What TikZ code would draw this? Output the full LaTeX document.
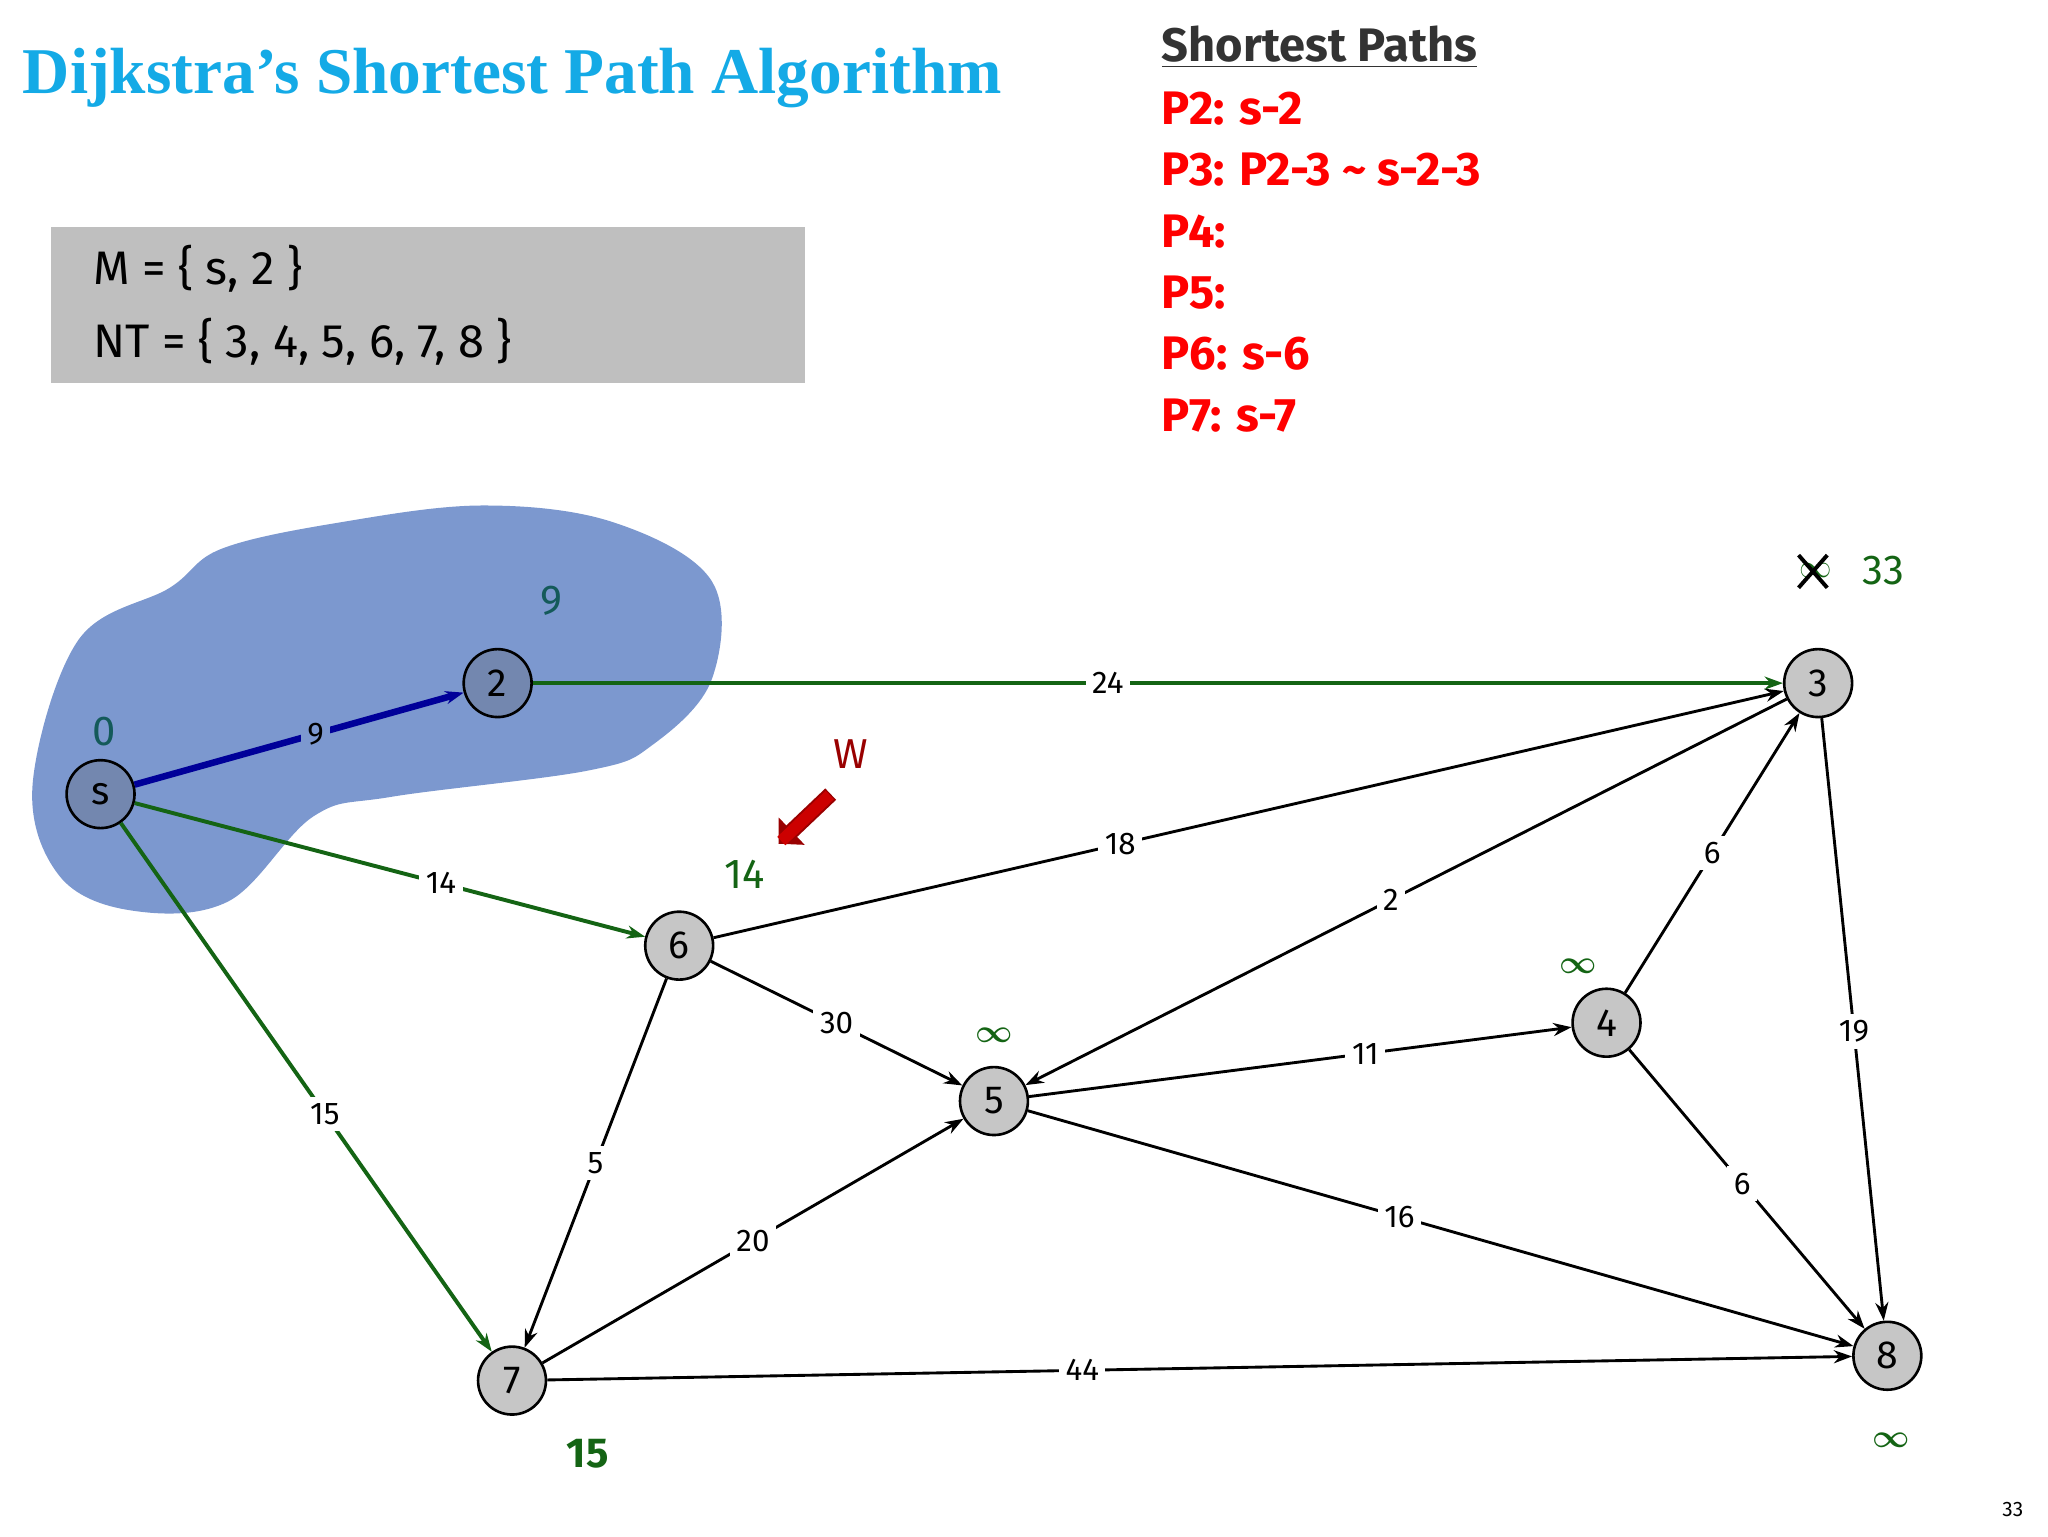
\documentclass[tikz,border=0pt]{standalone}
\usepackage{amsmath}
\usepackage{fontspec}
\setmainfont{Liberation Serif}
\newfontfamily\cf{Fira Sans}
\usetikzlibrary{arrows.meta}
\definecolor{gr}{RGB}{20,100,20}
\definecolor{teal2}{RGB}{20,90,90}
\definecolor{blobc}{RGB}{124,152,207}
\definecolor{titlec}{RGB}{20,170,230}
\tikzset{
 vtx/.style={circle,draw,line width=2pt,fill=gray!45,minimum size=52pt,inner sep=0pt,font=\cf\fontsize{30}{30}\selectfont},
 e/.style={line width=2.2pt,-{Stealth[length=14pt,width=10pt]}},
 lab/.style={fill=white,inner sep=5pt,font=\cf\fontsize{24}{24}\selectfont},
 ge/.style={e,draw=gr,line width=3pt},
 gtxt/.style={text=gr,font=\cf\fontsize{32}{32}\selectfont},
 red/.style={text=red,font=\cf\bfseries\fontsize{36}{36}\selectfont,anchor=west}
}
\begin{document}
\begin{tikzpicture}[x=1pt,y=-1pt]
\useasboundingbox (0,0) rectangle (1568,1176);
\fill[blobc] plot[smooth cycle,tension=0.6] coordinates{(25,600)(60,490)(130,450)(170,420)(260,400)(370,387)(470,400)(545,445)(545,520)(500,570)(450,590)(300,610)(240,625)(175,690)(100,697)(45,670)};
\node[anchor=west,text=titlec,font=\bfseries\fontsize{50}{50}\selectfont] (title) at (14,60) {Dijkstra's Shortest Path Algorithm};
\fill[gray!50] (39,174) rectangle (616,293);
\node[anchor=west,font=\cf\fontsize{36}{36}\selectfont] (m) at (68,206) {M = \{ s, 2 \}};
\node[anchor=west,font=\cf\fontsize{36}{36}\selectfont] (nt) at (68,262) {NT = \{ 3, 4, 5, 6, 7, 8 \}};
\node[anchor=west,text=black!80,font=\cf\bfseries\fontsize{36}{36}\selectfont] (sp) at (886,36) {\underline{Shortest Paths}};
\node[red] (p2) at (886,83) {P2: s-2};
\node[red] (p3) at (886,130) {P3: P2-3 \textasciitilde{} s-2-3};
\node[red] (p4) at (886,177) {P4:};
\node[red] (p5) at (886,224) {P5:};
\node[red] (p6) at (886,271) {P6: s-6};
\node[red] (p7) at (886,318) {P7: s-7};
\node[vtx,fill=blobc!80!black!90] (s) at (77,608) {s};
\node[vtx,fill=blobc!80!black!90] (n2) at (381,523) {2};
\node[vtx] (n3) at (1392,523) {3};
\node[vtx] (n6) at (520,724) {6};
\node[vtx] (n5) at (761,843) {5};
\node[vtx] (n4) at (1230,783) {4};
\node[vtx] (n7) at (392,1057) {7};
\node[vtx] (n8) at (1445,1038) {8};
\draw[e,draw=blue!60!black,line width=5pt] (s) -- node[lab,fill=blobc,pos=0.55]{9} (n2);
\draw[ge] (n2) -- node[lab,pos=0.46]{24} (n3);
\draw[ge] (s) -- node[lab,pos=0.6]{14} (n6);
\draw[ge] (s) -- node[lab,pos=0.55]{15} (n7);
\draw[e] (n6) -- node[lab,pos=0.38]{18} (n3);
\draw[e] (n6) -- node[lab,pos=0.5]{30} (n5);
\draw[e] (n6) -- node[lab,pos=0.5]{5} (n7);
\draw[e] (n3) -- node[lab,pos=0.52]{2} (n5);
\draw[e] (n4) -- node[lab,pos=0.5]{6} (n3);
\draw[e] (n5) -- node[lab,pos=0.62]{11} (n4);
\draw[e] (n3) -- node[lab,pos=0.52]{19} (n8);
\draw[e] (n4) -- node[lab,pos=0.48]{6} (n8);
\draw[e] (n5) -- node[lab,pos=0.45]{16} (n8);
\draw[e] (n7) -- node[lab,pos=0.5]{20} (n5);
\draw[e] (n7) -- node[lab,pos=0.41]{44} (n8);
\node[text=teal2,font=\cf\fontsize{32}{32}\selectfont] (l0) at (80,560) {0};
\node[text=teal2,font=\cf\fontsize{32}{32}\selectfont] (l9) at (422,460) {9};
\node[gtxt] (l14) at (570,669) {14};
\node[gtxt,font=\cf\bfseries\fontsize{32}{32}\selectfont] (l15) at (450,1113) {15};
\node[gtxt,font=\fontsize{40}{40}\selectfont] (i5) at (761,793) {$\boldsymbol\infty$};
\node[gtxt,font=\fontsize{40}{40}\selectfont] (i4) at (1208,740) {$\boldsymbol\infty$};
\node[gtxt,font=\fontsize{40}{40}\selectfont] (i8) at (1448,1103) {$\boldsymbol\infty$};
\node[gtxt,font=\fontsize{36}{36}\selectfont] (i3) at (1390,437) {$\infty$};
\node[gtxt] (l33) at (1442,437) {33};
\draw[line width=3pt] (1377,425) -- (1399,450) (1377,450) -- (1399,425);
\node[text=red!60!black,font=\cf\fontsize{32}{32}\selectfont] (w) at (651,577) {W};
\coordinate (wa) at (636,608); \coordinate (wb) at (596,646);
\draw[line width=12pt,red!60!black,-{Triangle[length=14pt,width=28pt]}] (wa) -- (wb);
\draw[line width=9pt,red!80!black,shorten >=3pt,shorten <=1pt] (wa) -- (wb);
\node[font=\cf\fontsize{16}{16}\selectfont] (pg) at (1541,1156) {33};
\end{tikzpicture}
\end{document}
